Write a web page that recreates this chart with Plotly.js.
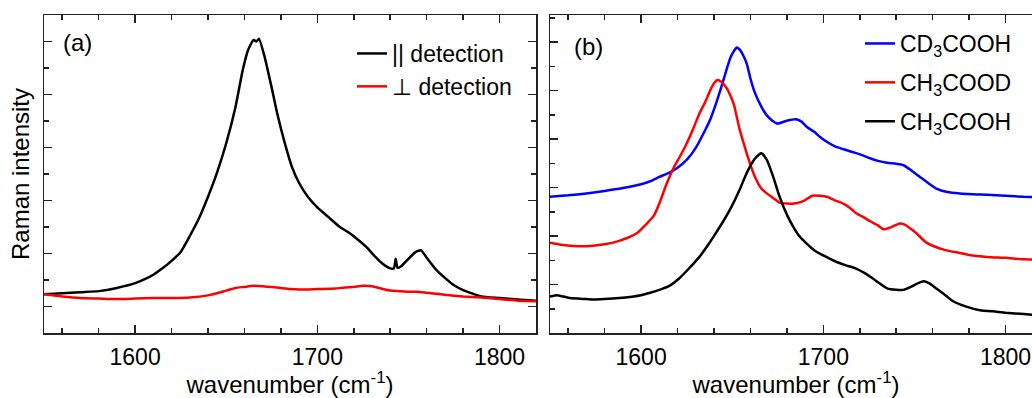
<!DOCTYPE html>
<html>
<head>
<meta charset="utf-8">
<script src="https://cdn.plot.ly/plotly-3.0.1.min.js"></script>
<style>
html,body{margin:0;padding:0;overflow:hidden;background:#fff;}
#chart{width:1050px;height:398px;}
</style>
</head>
<body>
<div id="chart"></div>
<script>
// Panel (a): polarization-resolved spectra
const wnParallel = [1550,1560,1570,1580,1590,1600,1605,1610,1615,1620,1625,1630,1635,1640,1645,1650,1655,1659,1662,1665,1666.5,1668,1671,1675,1678,1682,1686,1690,1695,1700,1706,1712,1717,1722,1727,1732,1736,1740,1742,1743,1744,1746,1750,1754,1757,1760,1765,1770,1775,1780,1790,1800,1810,1820];
const intParallel = [0.23,0.25,0.27,0.29,0.35,0.44,0.51,0.60,0.72,0.86,1.03,1.33,1.66,2.07,2.53,3.08,3.75,4.45,4.84,5.03,5.00,5.05,4.72,4.12,3.64,3.10,2.64,2.33,2.06,1.87,1.69,1.51,1.40,1.27,1.12,0.93,0.80,0.72,0.72,0.90,0.73,0.76,0.90,1.03,1.06,0.92,0.70,0.54,0.40,0.31,0.19,0.16,0.13,0.11];
const wnPerp = [1550,1560,1570,1580,1590,1600,1610,1620,1630,1640,1645,1650,1655,1660,1665,1670,1675,1680,1685,1690,1700,1710,1715,1720,1725,1730,1735,1740,1745,1750,1755,1760,1770,1780,1790,1800,1810,1820];
const intPerp = [0.23,0.19,0.16,0.15,0.14,0.15,0.16,0.16,0.17,0.21,0.25,0.30,0.35,0.37,0.39,0.38,0.37,0.35,0.33,0.32,0.33,0.34,0.36,0.37,0.39,0.38,0.34,0.30,0.29,0.28,0.28,0.26,0.22,0.19,0.17,0.14,0.11,0.10];

// Panel (b): isotopologues
const wnCD3COOH = [1550,1560,1570,1580,1590,1600,1605,1610,1615,1620,1625,1630,1634,1638,1641,1644,1647,1649,1651,1652.5,1654,1656,1658,1660,1662,1664.5,1667,1669,1672,1675,1680,1685,1688,1691,1695,1698,1703,1707,1712,1718,1722,1726,1730,1735,1740,1744,1748,1753,1758,1762,1768,1775,1790,1800,1810,1820];
const intCD3COOH = [2.81,2.84,2.88,2.93,2.99,3.07,3.13,3.22,3.30,3.41,3.57,3.82,4.10,4.41,4.72,5.07,5.45,5.68,5.82,5.89,5.85,5.73,5.55,5.25,5.00,4.78,4.60,4.49,4.38,4.32,4.38,4.41,4.36,4.25,4.15,4.05,3.92,3.84,3.78,3.71,3.66,3.60,3.55,3.51,3.49,3.46,3.36,3.22,3.08,2.98,2.91,2.88,2.85,2.83,2.81,2.80];
const wnCH3COOD = [1550,1556,1561,1570,1580,1588,1593,1598,1603,1607,1610,1614,1618,1621,1625,1629,1632,1635,1638,1640,1642,1644,1647,1649,1651,1654,1656,1658,1660,1662.5,1666,1669,1673,1676,1680,1684,1689,1694,1698,1702,1706,1711,1715,1718,1722,1726,1730,1733,1737,1742,1745,1748,1751,1756,1760,1767,1775,1780,1790,1800,1810,1820];
const intCH3COOD = [1.86,1.82,1.80,1.79,1.83,1.90,1.97,2.07,2.25,2.42,2.67,3.08,3.42,3.62,3.91,4.25,4.53,4.75,5.01,5.15,5.22,5.18,5.05,4.90,4.70,4.21,3.95,3.70,3.47,3.22,2.98,2.88,2.77,2.69,2.67,2.67,2.72,2.83,2.83,2.81,2.74,2.67,2.57,2.47,2.39,2.30,2.22,2.14,2.18,2.26,2.23,2.15,2.06,1.88,1.80,1.71,1.65,1.61,1.57,1.55,1.52,1.51];
const wnCH3COOH = [1550,1554,1561,1570,1574,1580,1588,1595,1600,1605,1610,1615,1621,1626,1632,1637,1641,1645,1649,1654,1657,1659,1662.5,1666,1669,1672.5,1676,1680.5,1684,1687,1691,1696,1700,1707,1712,1718,1723,1727,1731,1735,1740,1744,1748,1752,1755,1758,1762,1767,1771,1778,1786,1795,1800,1810,1820];
const intCH3COOH = [0.75,0.78,0.72,0.70,0.69,0.70,0.72,0.75,0.78,0.83,0.89,0.96,1.13,1.32,1.57,1.83,2.06,2.30,2.56,2.95,3.22,3.38,3.60,3.71,3.57,3.22,2.81,2.40,2.16,1.99,1.84,1.68,1.60,1.47,1.40,1.33,1.23,1.13,1.02,0.92,0.89,0.89,0.95,1.03,1.07,1.03,0.92,0.78,0.66,0.55,0.47,0.44,0.42,0.39,0.36];

const xTickVals = [1600,1700,1800];
const FONT = 'Liberation Sans, Arial, sans-serif';
const LINE = (c) => ({color:c, width:2.5, shape:'spline', smoothing:0.5});

const traces = [
  {x: wnParallel, y: intParallel, name: '|| detection', type:'scatter', mode:'lines',
   line:LINE('#000000'), xaxis:'x', yaxis:'y', legend:'legend'},
  {x: wnPerp, y: intPerp, name: '\u22A5 detection', type:'scatter', mode:'lines',
   line:LINE('#ff0000'), xaxis:'x', yaxis:'y', legend:'legend'},
  {x: wnCD3COOH, y: intCD3COOH, name: 'CD<sub>3</sub>COOH', type:'scatter', mode:'lines',
   line:LINE('#0000ff'), xaxis:'x2', yaxis:'y2', legend:'legend2', legendgroup:'b1'},
  {x: wnCH3COOD, y: intCH3COOD, name: 'CH<sub>3</sub>COOD', type:'scatter', mode:'lines',
   line:LINE('#ff0000'), xaxis:'x2', yaxis:'y2', legend:'legend2', legendgroup:'b2'},
  {x: wnCH3COOH, y: intCH3COOH, name: 'CH<sub>3</sub>COOH', type:'scatter', mode:'lines',
   line:LINE('#000000'), xaxis:'x2', yaxis:'y2', legend:'legend2', legendgroup:'b3'}
];

const W = 1050, H = 398, ML = 44, MR = 8, MT = 15, MB = 65;
const PW = W - ML - MR;

function xax(domain, anchor){
  return {
    domain: domain, anchor: anchor, range:[1550,1820],
    tickmode:'array', tickvals:xTickVals, ticktext:xTickVals.map(String),
    ticks:'inside', ticklen:8, tickwidth:1.5, tickcolor:'#222',
    minor:{dtick:20, tick0:1540, ticks:'inside', ticklen:5, tickwidth:1.5, tickcolor:'#222'},
    showline:true, linecolor:'#222', linewidth:1.5, mirror:'ticks',
    showgrid:false, zeroline:false, ticklabelstandoff:3,
    tickfont:{family:FONT, size:23, color:'#000'},
    title:{text:'wavenumber (cm<sup>-1</sup>)', font:{family:FONT, size:24, color:'#000'}, standoff:10}
  };
}
function yax(range, anchor, title){
  return {
    anchor: anchor, range: range, domain:[0,1],
    tickmode:'linear', tick0:0, dtick:1,
    ticks:'inside', ticklen:8, tickwidth:1.5, tickcolor:'#222',
    minor:{dtick:0.5, ticks:'inside', ticklen:5, tickwidth:1.5, tickcolor:'#222'},
    showticklabels:false,
    showline:true, linecolor:'#222', linewidth:1.5, mirror:'ticks',
    showgrid:false, zeroline:false,
    title:{text:title, font:{family:FONT, size:24, color:'#000'}, standoff:6}
  };
}

const layout = {
  width: W, height: H,
  margin:{l:ML, r:MR, t:MT, b:MB},
  paper_bgcolor:'#ffffff', plot_bgcolor:'#ffffff',
  font:{family:FONT, size:22, color:'#000'},
  xaxis: xax([0, 492/PW], 'y'),
  xaxis2: xax([506/PW, 1], 'y2'),
  yaxis: yax([-0.5, 5.5], 'x', 'Raman intensity'),
  yaxis2: yax([0, 6.56], 'x2', ''),
  showlegend:true,
  legend:{x:(352-ML)/PW, y:(333-32)/318, xanchor:'left', yanchor:'top',
          bgcolor:'rgba(0,0,0,0)', font:{family:FONT, size:23, color:'#000'},
          traceorder:'normal', itemwidth:30, tracegroupgap:0},
  legend2:{x:(860-ML)/PW, y:(333-22)/318, xanchor:'left', yanchor:'top',
          bgcolor:'rgba(0,0,0,0)', font:{family:FONT, size:23, color:'#000'},
          traceorder:'grouped', itemwidth:30, tracegroupgap:6},
  annotations:[
    {text:'(a)', xref:'paper', yref:'paper', x:(61-ML)/PW, y:(333-43)/318,
     xanchor:'left', yanchor:'middle', showarrow:false, font:{family:FONT, size:24, color:'#000'}},
    {text:'(b)', xref:'paper', yref:'paper', x:(572-ML)/PW, y:(333-47)/318,
     xanchor:'left', yanchor:'middle', showarrow:false, font:{family:FONT, size:24, color:'#000'}}
  ]
};

Plotly.newPlot('chart', traces, layout, {displayModeBar:false, staticPlot:true});
</script>
</body>
</html>
